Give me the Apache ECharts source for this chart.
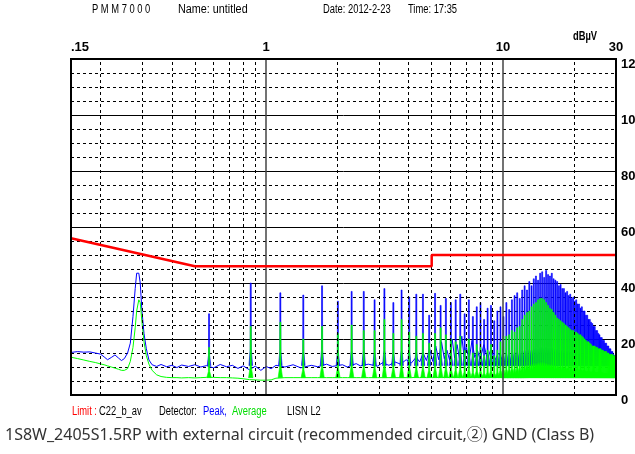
<!DOCTYPE html>
<html>
<head>
<meta charset="utf-8">
<script src="https://cdn.jsdelivr.net/npm/echarts@6/dist/echarts.min.js"></script>
<style>
  html, body { margin: 0; padding: 0; background: #fff; }
  #chart { width: 635px; height: 454px; }
</style>
</head>
<body>
<div id="chart"></div>
<script>
// 轴刻度
var xTickValues = [0.15, 1, 10, 30];
var xTickLabels = ['.15', '1', '10', '30'];
var xGridDashed = [0.2, 0.3, 0.4, 0.5, 0.6, 0.7, 0.8, 0.9, 2, 3, 4, 5, 6, 7, 8, 9, 20];
var xGridSolid = [1, 10];

// 限值 C22_b_av
var limitFreq = [0.15, 0.5, 5, 5, 30];
var limitDb = [56, 46, 46, 50, 50];

// 噪声底 (Peak / Average)
var floorFreq = [0.15, 0.16, 0.17, 0.18, 0.19, 0.2, 0.207, 0.214, 0.222, 0.23, 0.238, 0.245, 0.252, 0.26, 0.267,
  0.274, 0.28, 0.284, 0.29, 0.294, 0.299, 0.305, 0.312, 0.32, 0.33, 0.345, 0.36, 0.38, 0.4, 0.42, 0.44, 0.47,
  0.5, 0.53, 0.56, 0.6, 0.64, 0.68, 0.72, 0.76, 0.8, 0.85, 0.9, 0.95, 1.0, 1.05, 1.1, 1.2, 1.3, 1.4, 1.55, 1.65,
  1.8, 1.9, 2.1, 2.2, 2.4, 2.5, 2.7, 2.95, 3.1, 3.3, 3.5, 3.7, 3.9, 4.1, 4.3, 4.45, 4.6, 4.75, 4.9, 5.05, 5.2,
  5.35, 5.5, 5.65, 5.8, 5.95, 6.1, 6.25, 6.4, 6.55, 6.7, 6.85, 7.0, 7.2, 7.4, 7.6, 7.8, 8.0, 8.3, 8.6, 8.9, 9.2,
  9.6, 10, 11, 12, 14, 16, 18, 20, 23, 26, 30];
var peakFloorDb = [15.2, 15.5, 15.3, 15.4, 15.0, 14.6, 13.6, 12.6, 13.4, 14.3, 13.2, 12.3, 13.0, 15.0, 18.5,
  28.0, 38.0, 43.5, 43.5, 40.0, 30.0, 22.0, 16.5, 12.5, 10.8, 10.2, 10.9, 10.1, 10.6, 9.8, 10.7, 10.2,
  10.8, 10.0, 10.5, 9.7, 10.9, 10.1, 10.6, 9.5, 10.4, 9.0, 10.3, 8.8, 10.2, 9.4, 10.6, 10.0, 10.8, 9.7, 10.6, 10.1,
  11.0, 10.2, 10.8, 10.0, 11.2, 10.4, 11.0, 10.3, 11.5, 10.6, 11.8, 11.0, 12.6, 11.4, 13.5, 11.8, 15.0, 12.3, 16.5, 12.0, 17.5,
  12.6, 19.0, 13.0, 16.0, 12.4, 20.0, 13.2, 18.0, 12.8, 21.0, 13.5, 17.0, 12.7, 19.5, 13.4, 16.0, 12.5, 18.0, 12.8, 16.5, 12.2,
  15.0, 12.0, 11.6, 12.0, 11.4, 11.8, 11.2, 11.0, 10.8, 10.6, 10.5];
var avgFloorDb = [13.5, 13.0, 12.5, 12.0, 11.6, 11.1, 10.8, 10.4, 10.0, 9.6, 9.2, 8.8, 8.8, 9.4, 12.0,
  17.0, 24.0, 30.0, 34.0, 33.0, 26.0, 19.0, 14.0, 11.0, 8.8, 7.2, 6.6, 6.3, 6.2, 6.2, 6.1, 6.2,
  6.1, 6.2, 6.3, 6.3, 6.2, 6.2, 6.1, 6.0, 5.8, 5.5, 5.4, 5.3, 5.3, 5.4, 6.0, 6.2, 6.2, 6.2, 6.2, 6.2,
  6.2, 6.2, 6.2, 6.2, 6.2, 6.2, 6.2, 6.2, 6.2, 6.2, 6.2, 6.2, 6.2, 6.2, 6.3, 6.2, 6.3, 6.2, 6.3, 6.2, 6.4,
  6.2, 6.4, 6.2, 6.3, 6.2, 6.4, 6.2, 6.3, 6.2, 6.4, 6.2, 6.3, 6.2, 6.4, 6.2, 6.3, 6.2, 6.3, 6.2, 6.3, 6.2,
  6.3, 6.2, 6.2, 6.2, 6.3, 6.3, 6.3, 6.3, 6.3, 6.3, 6.3];

// 谐波 (2次 ~ 104次) 频率与峰值
var harmFreq = [0.574, 0.861, 1.148, 1.435, 1.722, 2.009, 2.296, 2.583, 2.870, 3.157, 3.444, 3.731, 4.018, 4.305,
  4.592, 4.879, 5.166, 5.453, 5.740, 6.027, 6.314, 6.601, 6.888, 7.175, 7.462, 7.749, 8.036, 8.323, 8.610,
  8.897, 9.184, 9.471, 9.758, 10.045, 10.332, 10.619, 10.906, 11.193, 11.480, 11.767, 12.054, 12.341, 12.628,
  12.915, 13.202, 13.489, 13.776, 14.063, 14.350, 14.637, 14.924, 15.211, 15.498, 15.785, 16.072, 16.359,
  16.646, 16.933, 17.220, 17.507, 17.794, 18.081, 18.368, 18.655, 18.942, 19.229, 19.516, 19.803, 20.090,
  20.377, 20.664, 20.951, 21.238, 21.525, 21.812, 22.099, 22.386, 22.673, 22.960, 23.247, 23.534, 23.821,
  24.108, 24.395, 24.682, 24.969, 25.256, 25.543, 25.830, 26.117, 26.404, 26.691, 26.978, 27.265, 27.552,
  27.839, 28.126, 28.413, 28.700, 28.987, 29.274, 29.561, 29.848];
var peakHarmDb = [29, 40, 36.5, 35.7, 39, 33.5, 37, 37, 34, 38, 33, 37.5, 35, 36, 36, 28.5, 36.3, 32, 34.5,
  33, 34, 36, 29, 34, 28, 31.5, 33, 27, 31, 32, 26.5, 30, 31.5, 28, 33, 30.5, 34, 35.5, 36.5, 34.5, 37.5,
  39, 37.5, 40.5, 39, 41.5, 42.5, 41, 43.5, 44, 42, 44.5, 43, 42.5, 43.5, 41.5, 41, 40.5, 39, 39.5, 38,
  38, 36.5, 37, 35.5, 36, 34.5, 35, 33.5, 34, 32.5, 32.5, 31, 31.5, 30, 30, 28.5, 28.5, 27, 27, 26, 25.5,
  24.5, 24.5, 23, 23, 22, 21.5, 20.5, 20.5, 19.5, 19.5, 18.5, 18.5, 17.5, 17.5, 16.5, 16.5, 15.5, 15.5,
  14.5, 14, 13];
var avgHarmDb = [17, 24.5, 26, 20, 24.5, 22, 25, 23, 23, 27, 22, 27, 22.5, 21, 22, 18.5, 22, 24, 21.5,
  20, 19, 21, 16, 20, 15, 18, 17, 14, 16, 18, 14, 16, 19, 21, 21, 21.5, 23, 22.5, 24, 24.5, 27,
  28.5, 29.5, 30, 31.5, 32.5, 33, 34, 34.5, 34.5, 34, 33, 32, 31, 30.5, 29.5, 28.5, 27.5, 27, 26.5, 26,
  25.5, 25, 24.5, 24, 23.5, 23, 23, 22.5, 22.5, 22, 21.5, 21.5, 21, 20.5, 20, 19.5, 19, 19, 18.5, 18, 17.5,
  17.5, 17.5, 17, 17, 16.5, 16.5, 16.5, 16, 16, 15.5, 15.5, 15.5, 15, 15, 14.5, 14.5, 14.5, 14.5,
  14, 14, 14];
var peakSpikeBase = 10.5;
var avgSpikeBase = 6.2;

var labelFont = '"Liberation Sans", Arial, sans-serif';

function pairs(xs, ys) {
    return xs.map(function (x, i) { return [x, ys[i]]; });
}

function spikeData(xs, ys, base) {
    return xs.map(function (x, i) { return [x, ys[i], base]; });
}

// 单根谐波尖峰
function makeSpike(halfWidth) {
    return function (params, api) {
        var top = api.coord([api.value(0), api.value(1)]);
        var base = api.coord([api.value(0), api.value(2)]);
        var x = top[0];
        var h = base[1] - top[1];
        var color = api.visual('color');
        return {
            type: 'polygon',
            shape: {
                points: [
                    [x - halfWidth, base[1]],
                    [x - halfWidth * 0.3, base[1] - h * 0.2],
                    [x - 0.5, top[1]],
                    [x + 0.5, top[1]],
                    [x + halfWidth * 0.3, base[1] - h * 0.2],
                    [x + halfWidth, base[1]]
                ]
            },
            style: { fill: color, stroke: color, lineWidth: 0.6 }
        };
    };
}

// 页面上的说明文字
function txt(left, top, text, color, font, sx) {
    return {
        type: 'text', left: left, top: top, scaleX: sx || 0.78,
        style: { text: text, fill: color, font: font }
    };
}

var myChart = echarts.init(document.getElementById('chart'), null, { renderer: 'canvas' });

var small = '12px ' + labelFont;

var option = {
    animation: false,
    backgroundColor: '#fff',
    grid: {
        left: 71, right: 19, top: 59, bottom: 59,
        outerBoundsMode: 'none',
        containLabel: false,
        show: true, borderColor: '#000', borderWidth: 2, backgroundColor: 'transparent',
        z: 10
    },
    xAxis: {
        type: 'log',
        logBase: 10,
        min: 0.15,
        max: 30,
        position: 'top',
        axisLine: { show: false },
        axisTick: { show: false },
        splitLine: { show: false },
        axisLabel: {
            color: '#000',
            fontSize: 13,
            fontWeight: 'bold',
            fontFamily: labelFont,
            margin: 5,
            showMinLabel: true,
            showMaxLabel: true,
            alignMinLabel: 'left',
            formatter: function (v) {
                var i = xTickValues.findIndex(function (t) {
                    return Math.abs(Math.log10(t) - Math.log10(v)) < 0.01;
                });
                return i >= 0 ? xTickLabels[i] : '';
            }
        }
    },
    yAxis: {
        type: 'value',
        min: 0,
        max: 120,
        interval: 20,
        position: 'right',
        axisLine: { show: false },
        axisTick: { show: false },
        axisLabel: {
            color: '#000',
            fontSize: 13,
            fontWeight: 'bold',
            fontFamily: labelFont,
            margin: 5,
            verticalAlign: 'top',
            padding: [-1, 0, 0, 0]
        },
        splitLine: { lineStyle: { color: '#000', width: 1 } },
        minorTick: { show: false, splitNumber: 4 },
        minorSplitLine: { show: true, lineStyle: { color: '#000', width: 1, type: [3, 3] } }
    },
    graphic: [
        txt(92, 4, 'P M M 7 0 0 0', '#000', small),
        txt(178, 4, 'Name: untitled', '#000', small, 0.9),
        txt(323, 4, 'Date: 2012-2-23', '#000', small),
        txt(408, 4, 'Time: 17:35', '#000', small),
        txt(573, 31, 'dBµV', '#000', 'bold 12px ' + labelFont),
        txt(72, 406, 'Limit :', '#ff0000', small),
        txt(99, 406, 'C22_b_av', '#000', small),
        txt(159, 406, 'Detector:', '#000', small),
        txt(203, 406, 'Peak,', '#0000ff', small),
        txt(232, 406, 'Average', '#00dd00', small),
        txt(287, 406, 'LISN L2', '#000', small),
        txt(5, 427, '1S8W_2405S1.5RP with external circuit (recommended circuit,\u2461) GND (Class B)',
            '#333', '16px "Noto Sans", "Noto Sans CJK SC", sans-serif', 1)
    ],
    series: [
        {
            // 网格竖线
            name: 'grid',
            type: 'line',
            data: [],
            z: 1,
            silent: true,
            markLine: {
                silent: true,
                symbol: 'none',
                animation: false,
                label: { show: false },
                data: xGridDashed.map(function (v) {
                    return { xAxis: v, lineStyle: { color: '#000', width: 1, type: [3, 3] } };
                }).concat(xGridSolid.map(function (v) {
                    return { xAxis: v, lineStyle: { color: '#444', width: 1.5, type: 'solid' } };
                }))
            }
        },
        {
            name: 'Limit',
            type: 'line',
            data: pairs(limitFreq, limitDb),
            showSymbol: false,
            z: 5,
            lineStyle: { color: '#ff0000', width: 2.5 }
        },
        {
            name: 'Peak',
            type: 'line',
            data: pairs(floorFreq, peakFloorDb),
            showSymbol: false,
            z: 3,
            color: '#0000ff',
            lineStyle: { color: '#0000ff', width: 1 }
        },
        {
            name: 'PeakHarm',
            type: 'custom',
            data: spikeData(harmFreq, peakHarmDb, peakSpikeBase),
            encode: { x: 0, y: 1 },
            renderItem: makeSpike(1.8),
            clip: true,
            z: 3,
            itemStyle: { color: '#0000ff' }
        },
        {
            name: 'Average',
            type: 'line',
            data: pairs(floorFreq, avgFloorDb),
            showSymbol: false,
            z: 4,
            color: '#00ff00',
            lineStyle: { color: '#00ff00', width: 1 }
        },
        {
            name: 'AvgHarm',
            type: 'custom',
            data: spikeData(harmFreq, avgHarmDb, avgSpikeBase),
            encode: { x: 0, y: 1 },
            renderItem: makeSpike(2.2),
            clip: true,
            z: 4,
            itemStyle: { color: '#00ff00' }
        }
    ]
};

myChart.setOption(option);
</script>
</body>
</html>
